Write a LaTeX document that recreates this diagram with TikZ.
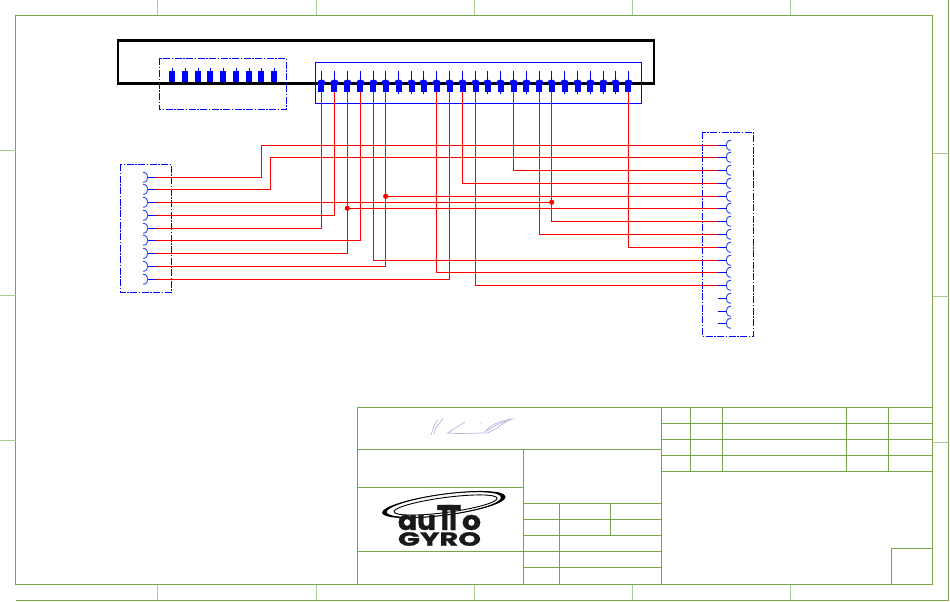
\documentclass[tikz,border=0pt]{standalone}
\usepackage{graphicx}
\usepackage{fontspec}
\newfontfamily\logofont[BoldFeatures={FakeBold=1.2}]{Poppins}
\definecolor{frameg}{HTML}{76A64C}
\definecolor{tickg}{HTML}{A9CB8C}
\definecolor{sigc}{HTML}{B4B4E4}
\definecolor{arcb}{HTML}{3048F0}
\tikzset{
  frameline/.style={draw=frameg,line width=1pt},
  tickline/.style={draw=tickg,line width=1pt},
  housing/.style={draw=blue,line width=1pt,dash pattern=on 7pt off 1.5pt on 1.5pt off 1.5pt},
  shellbox/.style={draw=blue,line width=1pt},
  heavybar/.style={draw=black,line width=2.2pt},
  wire/.style={draw=red,line width=1pt},
  stub/.style={draw=blue,line width=1pt},
  cup/.style={draw=arcb,line width=0.9pt},
  dotj/.style={fill=red},
  sign/.style={draw=sigc,line width=0.7pt},
  logotxt/.style={inner sep=0pt,outer sep=0pt,font=\logofont\bfseries,text=black!90}
}
\begin{document}
\begin{tikzpicture}[x=1pt,y=-1pt]
\useasboundingbox (0,0) rectangle (950,602);
\fill[white] (0,0) rectangle (950,602);

% sheet frame
\draw[frameline] (15.5,15.5) rectangle (932.5,584.5);
\draw[frameline] (948.5,0) -- (948.5,600) -- (15.5,600);
\foreach \x in {157.5,316,474,632,790}{
  \draw[tickline] (\x,0) -- (\x,15.5);
  \draw[tickline] (\x,584.5) -- (\x,600);
}
\foreach \y in {150,295,440}{\draw[tickline] (0,\y) -- (15.5,\y);}
\foreach \y in {153,296,442}{\draw[tickline] (932.5,\y) -- (948.5,\y);}

% black housing
\draw[heavybar] (118,40.5) rectangle (654,83.5);

% upper connectors
\draw[housing] (159.3,58.5) rectangle (286.3,109.5);
\draw[shellbox] (315.5,62.5) rectangle (641.5,103.3);
\foreach \x in {172,185,198,210,223,236,249,261.3,274}{
  \fill[blue] (\x-3,71) rectangle (\x+3,82);
  \draw[stub] (\x,68) -- (\x,71);
}
\foreach \x [count=\i] in {321.3,334.3,347.3,360.3,373.3,385.7,398.7,411.7,423.7,436.7,449.7,462.7,475.7,487.7,500.7,513.7,526.3,539.3,551.7,564.7,577.7,590.3,603.3,615.7,628.3}{
  \coordinate (P\i) at (\x,92);
  \draw[stub] (\x,71) -- (\x,94);
  \fill[blue] (\x-4.5,84) .. controls (\x-4.5,78.3) and (\x+4.5,78.3) .. (\x+4.5,84) -- cycle;
  \fill[blue] (\x-3,82) rectangle (\x+3,92);
}

% left connector
\draw[housing] (120.3,164.3) rectangle (171.5,292.3);
\foreach \y [count=\i] in {177.3,189.3,202.3,215.3,228.3,240.3,253.3,266.3,279.3}{
  \coordinate (L\i) at (156,\y);
  \draw[stub] (147.5,\y) -- (L\i);
  \draw[cup] (143,\y-5) .. controls (149.5,\y-5) and (149.5,\y+5) .. (143,\y+5);
}

% right connector
\draw[housing] (702.3,132.3) rectangle (753.3,336);
\foreach \y [count=\i] in {145.3,157.3,170.3,183.3,196.3,208.3,221.3,234.3,247.3,260.3,272.3,285.3,298.3,311.3,323.3}{
  \coordinate (R\i) at (718,\y);
  \draw[stub] (R\i) -- (727,\y);
  \draw[cup] (731,\y-5) .. controls (724.5,\y-5) and (724.5,\y+5) .. (731,\y+5);
}

% routing helpers and junctions
\coordinate (jogA) at (261.3,160);
\coordinate (jogB) at (270.3,170);
\coordinate (J1) at (347.3,208.3);
\coordinate (J2) at (385.7,196.3);
\coordinate (J3) at (551.7,202.3);

% wires
\draw[wire] (L1) -| (jogA) |- (R1);
\draw[wire] (L2) -| (jogB) |- (R2);
\draw[wire] (L3) -- (J3);
\draw[wire] (L4) -| (P2);
\draw[wire] (L5) -| (P1);
\draw[wire] (L6) -| (P4);
\draw[wire] (L7) -| (P3);
\draw[wire] (L8) -| (P6);
\draw[wire] (L9) -| (P11);
\draw[wire] (J1) -- (R6);
\draw[wire] (J2) -- (R5);
\draw[wire] (P5) |- (R10);
\draw[wire] (P10) |- (R11);
\draw[wire] (P13) |- (R12);
\draw[wire] (P16) |- (R3);
\draw[wire] (P12) |- (R4);
\draw[wire] (P19) |- (R7);
\draw[wire] (P18) |- (R8);
\draw[wire] (P25) |- (R9);
\fill[dotj] (J1) circle (2.6);
\fill[dotj] (J2) circle (2.6);
\fill[dotj] (J3) circle (2.6);

% title block
\draw[frameline] (357.3,584.5) -- (357.3,407.3) -- (932.5,407.3);
\draw[frameline] (661.3,407.3) -- (661.3,584.5);
\draw[frameline] (357.3,449.3) -- (661.3,449.3);
\draw[frameline] (523.3,449.3) -- (523.3,584.5);
\draw[frameline] (357.3,487.3) -- (524.3,487.3);
\draw[frameline] (357.3,551.3) -- (661.3,551.3);
\foreach \y in {503.3,519.3,535.3,567.3}{\draw[frameline] (523.3,\y) -- (661.3,\y);}
\draw[frameline] (559,503.3) -- (559,584.5);
\draw[frameline] (610,503.3) -- (610,535.3);
\foreach \y in {423.3,439.3,455.3,471.3}{\draw[frameline] (661.3,\y) -- (932.5,\y);}
\foreach \x in {690,722,846.3,888.3}{\draw[frameline] (\x,407.3) -- (\x,471.3);}
\draw[frameline] (891.3,584.5) |- (932.5,548.3);

% signature
\draw[sign] (431,435) .. controls (433,428) and (435,424) .. (437.5,419.5);
\draw[sign] (434.5,434) .. controls (433,430) and (440,423) .. (443,418);
\draw[sign] (465,422) -- (447.5,433) .. controls (460,434) and (475,433) .. (484,433);
\draw[sign] (484,433) .. controls (489,426) and (498,421) .. (512,419) .. controls (504,422) and (496,430) .. (486,433.5);
\draw[sign] (487,431) .. controls (494,426) and (500,423) .. (506,421);
\fill[sigc] (481,423) circle (0.6);

% logo
\begin{scope}[shift={(445.5,504.5)},rotate=7.5]
  \draw[black,line width=1pt] (0,0) ellipse [x radius=60,y radius=10.5];
  \draw[black,line width=0.9pt] (0,0.5) ellipse [x radius=52,y radius=7.5];
  \fill[black,even odd rule] (0,0) ellipse [x radius=60,y radius=10.5]
    (-4,0) ellipse [x radius=60,y radius=10.5];
\end{scope}
\node[logotxt] (logoA) at (417,522.5) {\resizebox{38pt}{15pt}{au}};
\node[logotxt] (logoB) at (449,517.5) {\resizebox{24pt}{25pt}{T\kern-0.28em T}};
\node[logotxt] (logoD) at (471.5,522.5) {\resizebox{19pt}{15pt}{o}};
\node[logotxt] (logoE) at (439.5,539) {\resizebox{83pt}{13.5pt}{GYRO}};
\end{tikzpicture}
\end{document}
